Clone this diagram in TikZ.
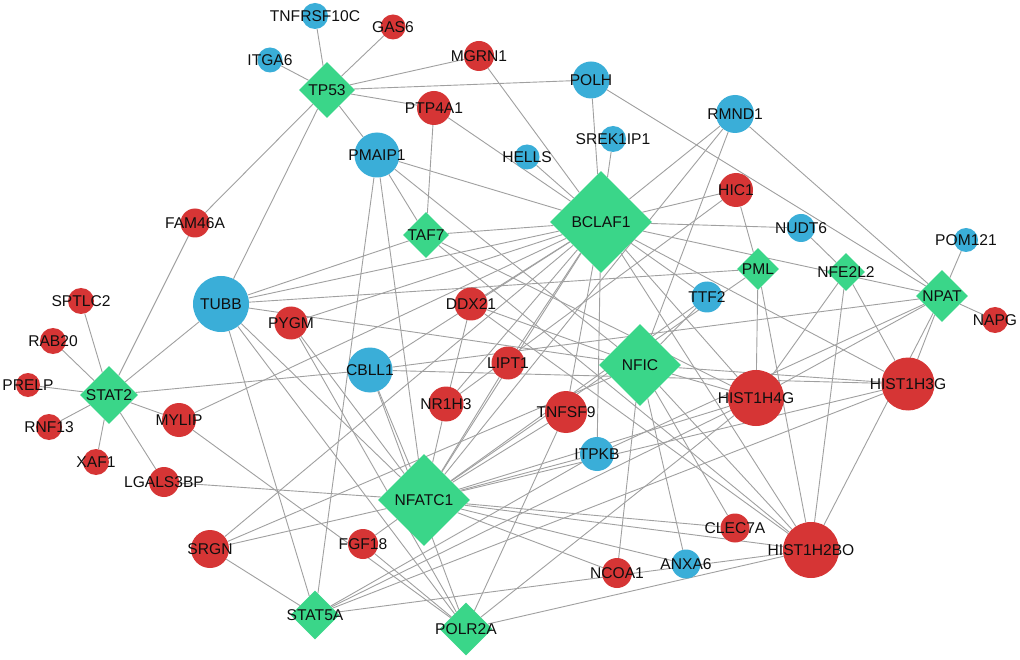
\documentclass[tikz,border=0pt]{standalone}
\usepackage{fontspec}
\setmainfont{Liberation Sans}
\usetikzlibrary{shapes.geometric,backgrounds}
\definecolor{nblue}{RGB}{58,174,216}
\definecolor{nred}{RGB}{214,53,53}
\definecolor{ngreen}{RGB}{58,214,137}
\definecolor{egray}{RGB}{160,160,160}
\begin{document}
\begin{tikzpicture}[x=1pt,y=-1pt,
  gn/.style={circle,draw=none,inner sep=0pt},
  bnode/.style={gn,fill=nblue},
  rnode/.style={gn,fill=nred},
  dnode/.style={diamond,draw=none,inner sep=0pt,fill=ngreen},
  lbl/.style={font=\fontsize{15.6}{17}\selectfont,text={rgb,255:red,15;green,15;blue,15},inner sep=0pt},
  edge/.style={draw=egray,line width=0.9pt}]
\useasboundingbox (0,0) rectangle (1020,660);
% blue gene nodes
\foreach \n/\x/\y/\d in {TNFRSF10C/315/16/26, ITGA6/270/60/25, POLH/591/80/37, PMAIP1/377/155/45, HELLS/527/157/25, SREK1IP1/613/139/26, RMND1/735/114/38, NUDT6/801/228/28, POM121/966/240/24, TUBB/221/304/56, TTF2/707/297/31, CBLL1/370/370/45, ITPKB/597/454/34, ANXA6/686/564/29}
  \node[bnode,minimum size=\d pt] (\n) at (\x,\y) {};
% red gene nodes
\foreach \n/\x/\y/\d in {GAS6/393/27/25, MGRN1/479/56/30, PTP4A1/434/108/34, FAM46A/195/223/29, HIC1/736/190/34, SPTLC2/81/301/26, RAB20/53/341/26, PRELP/28/385/24, RNF13/49/427/26, XAF1/96/462/26, MYLIP/179/420/34, LGALS3BP/164/482/30, PYGM/291/323/33, DDX21/471/304/33, LIPT1/508/363/33, NR1H3/446/404/35, TNFSF9/566/412/42, SRGN/210/549/38, FGF18/363/544/30, NCOA1/617/573/30, CLEC7A/735/528/29, NAPG/995/320/26, HIST1H4G/756/398/56, HIST1H3G/908/384/53, HIST1H2BO/811/550/56}
  \node[rnode,minimum size=\d pt] (\n) at (\x,\y) {};
% green diamonds
\foreach \n/\x/\y/\d in {TP53/327/90/56, TAF7/426/235/46, BCLAF1/601/222/102, PML/758/269/42, NFE2L2/846/272/38, NPAT/942/296/52, STAT2/109/395/58, NFIC/640/365/82, NFATC1/424/500/92, STAT5A/315/615/49, POLR2A/466/629/53}
  \node[dnode,minimum size=\d pt] (\n) at (\x,\y) {};
% labels
\foreach \n in {TNFRSF10C,ITGA6,POLH,PMAIP1,HELLS,SREK1IP1,RMND1,NUDT6,POM121,TUBB,TTF2,CBLL1,ITPKB,ANXA6,GAS6,MGRN1,PTP4A1,FAM46A,HIC1,SPTLC2,RAB20,PRELP,RNF13,XAF1,MYLIP,LGALS3BP,PYGM,DDX21,LIPT1,NR1H3,TNFSF9,SRGN,FGF18,NCOA1,CLEC7A,NAPG,HIST1H4G,HIST1H3G,HIST1H2BO,TP53,TAF7,BCLAF1,PML,NFE2L2,NPAT,STAT2,NFIC,NFATC1,STAT5A,POLR2A}
  \node[lbl] (\n-l) at (\n.center) {\n};
\begin{pgfonlayer}{background}
\fill[white] (0,0) rectangle (1020,660);
\foreach \a/\b in {TP53/TNFRSF10C, TP53/ITGA6, TP53/GAS6, TP53/MGRN1, TP53/POLH, TP53/PTP4A1, TP53/PMAIP1, TP53/FAM46A, TP53/TUBB,
 STAT2/SPTLC2, STAT2/RAB20, STAT2/PRELP, STAT2/RNF13, STAT2/XAF1, STAT2/MYLIP, STAT2/LGALS3BP, STAT2/FAM46A, STAT2/TUBB, STAT2/CBLL1,
 BCLAF1/PMAIP1, BCLAF1/PTP4A1, BCLAF1/MGRN1, BCLAF1/HELLS, BCLAF1/POLH, BCLAF1/SREK1IP1, BCLAF1/RMND1, BCLAF1/HIC1, BCLAF1/NUDT6, BCLAF1/TAF7, BCLAF1/TUBB, BCLAF1/MYLIP, BCLAF1/SRGN, BCLAF1/DDX21, BCLAF1/LIPT1, BCLAF1/NR1H3, BCLAF1/NFATC1, BCLAF1/CBLL1, BCLAF1/ITPKB, BCLAF1/TNFSF9, BCLAF1/HIST1H3G, BCLAF1/HIST1H2BO, BCLAF1/HIST1H4G, BCLAF1/PYGM, BCLAF1/TTF2, BCLAF1/NPAT,
 TAF7/PTP4A1, TAF7/PMAIP1, TAF7/TUBB, TAF7/HIST1H4G, TAF7/HIST1H2BO,
 PMAIP1/NFIC, PMAIP1/NFATC1, PMAIP1/STAT5A,
 NFIC/TUBB, NFIC/RMND1, NFIC/TTF2, NFIC/ANXA6, NFIC/CLEC7A, NFIC/HIST1H2BO, NFIC/NCOA1, NFIC/SRGN, NFIC/DDX21, NFIC/HIST1H3G, NFIC/HIST1H4G,
 NFATC1/RMND1, NFATC1/NR1H3, NFATC1/LIPT1, NFATC1/CBLL1, NFATC1/PYGM, NFATC1/TUBB, NFATC1/ITPKB, NFATC1/HIST1H4G, NFATC1/HIST1H3G, NFATC1/CLEC7A, NFATC1/HIST1H2BO, NFATC1/NCOA1, NFATC1/ANXA6, NFATC1/LGALS3BP, NFATC1/SRGN, NFATC1/FGF18, NFATC1/TNFSF9, NFATC1/PML, NFATC1/TTF2,
 PML/HIC1, PML/HIST1H4G, PML/HIST1H2BO, PML/TUBB,
 NFE2L2/NUDT6, NFE2L2/HIST1H4G, NFE2L2/HIST1H2BO, NFE2L2/HIST1H3G,
 NPAT/POM121, NPAT/NAPG, NPAT/RMND1, NPAT/POLH, NPAT/HIST1H3G, NPAT/HIST1H2BO, NPAT/HIST1H4G, NPAT/CBLL1, NPAT/ITPKB,
 STAT5A/SRGN, STAT5A/TUBB, STAT5A/ITPKB, STAT5A/HIST1H4G, STAT5A/HIST1H3G, STAT5A/HIST1H2BO,
 POLR2A/TUBB, POLR2A/MYLIP, POLR2A/FGF18, POLR2A/CBLL1, POLR2A/TNFSF9, POLR2A/HIST1H2BO, POLR2A/HIST1H4G, POLR2A/PYGM,
 HIC1/NR1H3, CBLL1/HIST1H3G, DDX21/NR1H3, DDX21/HIST1H2BO}
  \draw[edge] (\a) -- (\b);
\end{pgfonlayer}
\end{tikzpicture}
\end{document}
